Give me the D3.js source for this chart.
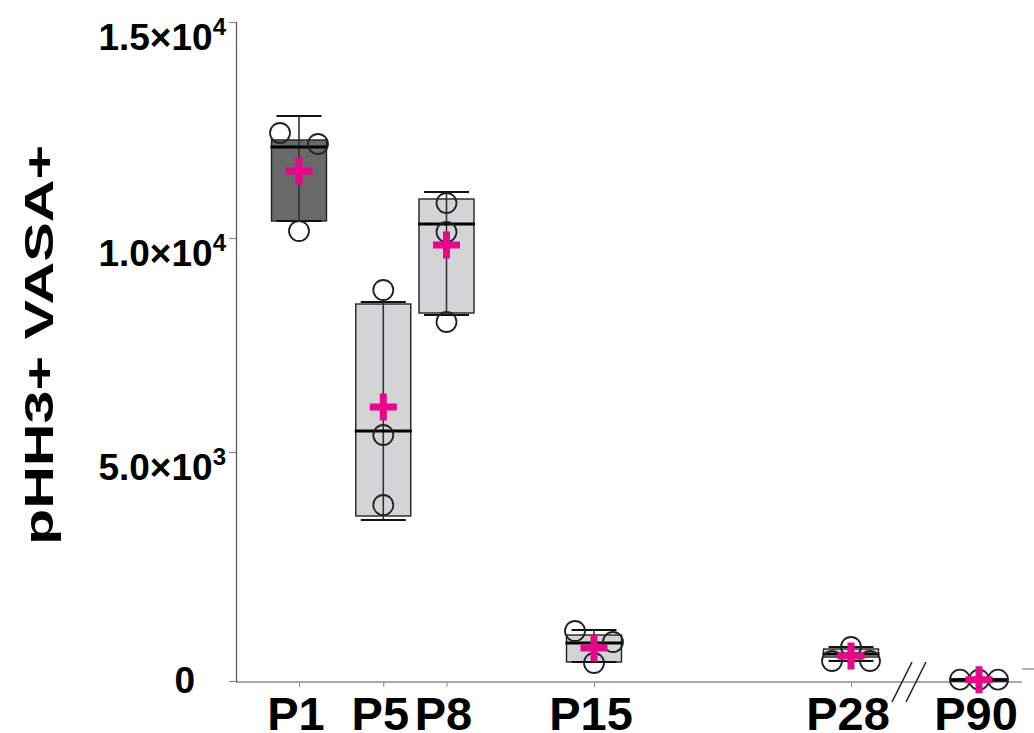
<!DOCTYPE html>
<html>
<head>
<meta charset="utf-8">
<script src="https://cdn.jsdelivr.net/npm/d3@7"></script>
<style>
  html, body { margin: 0; padding: 0; background: #fff; }
  svg { display: block; font-family: "Liberation Sans", Arial, sans-serif; }
</style>
</head>
<body>
<svg id="chart" width="1034" height="733"></svg>
<script>
// values
const groups = ["P1", "P5", "P8", "P15", "P28", "P90"];
const ages = [1, 5, 8, 15, 28, 90];
const whiskerHigh = [12824, 8505, 11065, 1114, 742, 40];
const q3 = [12269, 8458, 10903, 1004, 699, 40];
const medians = [12107, 5491, 10324, 830, 590, 30];
const q1 = [10394, 3603, 8248, 415, 524, 20];
const whiskerLow = [10394, 3515, 8201, 415, 437, 20];
const means = [11551, 6051, 9836, 721, 546, 30];
const points = [
  [12431, 12176, 10162],
  [8785, 5397, 3843],
  [10810, 10139, 8037],
  [1092, 852, 393],
  [437, 742, 437],
  [30, 30, 30]
];
const pointSlots = [
  ["L", "R", "C"],
  ["C", "C", "C"],
  ["C", "C", "C"],
  ["L", "R", "C"],
  ["L", "C", "R"],
  ["L", "C", "R"]
];
const yTicks = [0, 5000, 10000, 15000];
const yTickBase = ["0", "5.0×10", "1.0×10", "1.5×10"];
const yTickExp = ["", "3", "4", "4"];
const yTitle = "pHH3+ VASA+";

const svg = d3.select("#chart");

// the figure's y axis is slightly uneven, so a piecewise scale through the ticks
const y = d3.scaleLinear()
  .domain([0, 5000, 10000, 15000])
  .range([681, 452, 238, 22]);

// x by age, with a break between P28 and P90
const x = d3.scaleLinear()
  .domain([1, 15, 28, 90])
  .range([299, 594, 851, 979]);

const slot = d3.scalePoint().domain(["L", "C", "R"]).range([-19, 19]);

const axisX = 236;
const axisRight = 1022;
const boxW = 55;
const capW = 45;

// y axis
const yAxis = svg.append("g")
  .attr("transform", `translate(${axisX},0)`)
  .call(d3.axisLeft(y).tickValues(yTicks).tickSize(7).tickFormat(""));
yAxis.select(".domain").attr("stroke", "#555").attr("stroke-width", 1.2);
yAxis.selectAll(".tick line").attr("stroke", "#888").attr("stroke-width", 1.2);

const yLab = svg.append("g")
  .attr("font-weight", "bold")
  .attr("fill", "#000");
yTicks.forEach((v, i) => {
  const t = yLab.append("text")
    .attr("text-anchor", "end")
    .attr("font-size", 37)
    .attr("x", v === 0 ? 195 : 226)
    .attr("y", y(v) + (v === 0 ? 12 : 28));
  t.append("tspan").text(yTickBase[i]);
  if (yTickExp[i]) {
    t.append("tspan")
      .attr("font-size", 24)
      .attr("dy", -15)
      .text(yTickExp[i]);
  }
});

// x axis
svg.append("line")
  .attr("x1", axisX).attr("x2", axisRight)
  .attr("y1", y(0) + 1).attr("y2", y(0) + 1)
  .attr("stroke", "#555").attr("stroke-width", 1.2);

const xAxis = svg.append("g")
  .attr("transform", `translate(0,${y(0) + 1})`)
  .call(d3.axisBottom(x).tickValues(ages.slice(0, 5)).tickSize(5).tickFormat(""));
xAxis.select(".domain").remove();
xAxis.selectAll(".tick line").attr("stroke", "#888");

svg.append("g")
  .selectAll("text")
  .data(groups)
  .join("text")
  .attr("x", (d, i) => x(ages[i]) - 3)
  .attr("y", 730)
  .attr("text-anchor", "middle")
  .attr("font-size", 47)
  .attr("font-weight", "bold")
  .text(d => d);

// axis break marks
const brk = (x(28) + x(90)) / 2 - 6;
[-7, 7].forEach(o => {
  svg.append("line")
    .attr("x1", brk + o - 10).attr("y1", 702)
    .attr("x2", brk + o + 10).attr("y2", 662)
    .attr("stroke", "#222").attr("stroke-width", 1.6);
});

// small stray tick at right edge of the original panel
svg.append("line")
  .attr("x1", 1022).attr("x2", 1034)
  .attr("y1", 669).attr("y2", 669)
  .attr("stroke", "#999").attr("stroke-width", 1.5);

// y title
svg.append("text")
  .attr("transform", "translate(53,345) rotate(-90)")
  .attr("text-anchor", "middle")
  .attr("font-size", 40)
  .attr("font-weight", "bold")
  .attr("textLength", 400)
  .attr("lengthAdjust", "spacingAndGlyphs")
  .text(yTitle);

// boxes
const box = svg.append("g")
  .selectAll("g")
  .data(groups)
  .join("g")
  .attr("transform", (d, i) => `translate(${x(ages[i])},0)`);

box.append("rect")
  .attr("x", -boxW / 2)
  .attr("width", boxW)
  .attr("y", (d, i) => y(q3[i]))
  .attr("height", (d, i) => Math.max(2, y(q1[i]) - y(q3[i])))
  .attr("fill", (d, i) => i === 0 ? "#696969" : "#d4d4d6")
  .attr("stroke", "#222")
  .attr("stroke-width", 1.4);

box.append("line")
  .attr("y1", (d, i) => y(whiskerHigh[i]))
  .attr("y2", (d, i) => y(whiskerLow[i]))
  .attr("stroke", "#333")
  .attr("stroke-width", 1.6);

box.selectAll(".cap")
  .data((d, i) => [whiskerHigh[i], whiskerLow[i]])
  .join("line")
  .attr("class", "cap")
  .attr("x1", -capW / 2).attr("x2", capW / 2)
  .attr("y1", d => y(d)).attr("y2", d => y(d))
  .attr("stroke", "#111")
  .attr("stroke-width", 2);

box.append("line")
  .attr("x1", -boxW / 2 - 1).attr("x2", boxW / 2 + 1)
  .attr("y1", (d, i) => y(medians[i]))
  .attr("y2", (d, i) => y(medians[i]))
  .attr("stroke", "#000")
  .attr("stroke-width", 3);

box.selectAll("circle")
  .data((d, i) => points[i].map((v, j) => ({ v, s: pointSlots[i][j] })))
  .join("circle")
  .attr("cx", d => slot(d.s))
  .attr("cy", d => y(d.v))
  .attr("r", 10)
  .attr("fill", "none")
  .attr("stroke", "#222")
  .attr("stroke-width", 1.8);

// mean marker: magenta cross
const arm = 13.5, th = 3.5;
const crossPath = `M${-th},${-arm}H${th}V${-th}H${arm}V${th}H${th}V${arm}H${-th}V${th}H${-arm}V${-th}H${-th}Z`;
box.append("path")
  .attr("d", crossPath)
  .attr("transform", (d, i) => `translate(0,${y(means[i])})`)
  .attr("fill", "#e8078a");
</script>
</body>
</html>
